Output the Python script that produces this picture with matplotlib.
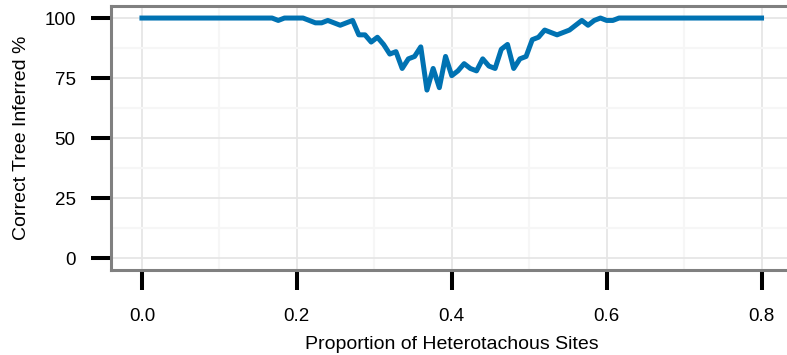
import numpy as np
import matplotlib
matplotlib.use("Agg")
import matplotlib.pyplot as plt
from matplotlib.ticker import MultipleLocator

plt.rcParams['font.family'] = ['Liberation Sans', 'DejaVu Sans']

# proportion of heterotachous sites, 0 to 0.8 in steps of 0.008
proportion = np.round(np.arange(101) * 0.008, 3)

# percent of replicates recovering the correct tree
correct_pct = [
    100, 100, 100, 100, 100, 100, 100, 100, 100, 100,
    100, 100, 100, 100, 100, 100, 100, 100, 100, 100,
    100, 100, 99, 100, 100, 100, 100, 99, 98, 98,
    99, 98, 97, 98, 99, 93, 93, 90, 92, 89,
    85, 86, 79, 83, 84, 88, 70, 79, 71, 84,
    76, 78, 81, 79, 78, 83, 80, 79, 87, 89,
    79, 83, 84, 91, 92, 95, 94, 93, 94, 95,
    97, 99, 97, 99, 100, 99, 99, 100, 100, 100,
    100, 100, 100, 100, 100, 100, 100, 100, 100, 100,
    100, 100, 100, 100, 100, 100, 100, 100, 100, 100,
    100,
]

x_ticks = [0.0, 0.2, 0.4, 0.6, 0.8]
y_ticks = [0, 25, 50, 75, 100]

fig = plt.figure(figsize=(7.87, 3.55), dpi=100)
ax = fig.add_axes([0.141, 0.239, 0.866, 0.744])

ax.plot(proportion, correct_pct, color='#0072b2', lw=3.6, zorder=3)

ax.set_xlim(-0.04, 0.84)
ax.set_ylim(-5, 105)
ax.set_xticks(x_ticks)
ax.set_xticklabels([f"{t:.1f}" for t in x_ticks])
ax.set_yticks(y_ticks)
ax.xaxis.set_minor_locator(MultipleLocator(0.1))
ax.yaxis.set_minor_locator(MultipleLocator(12.5))

ax.grid(which='major', color='#e6e6e6', lw=1.3, zorder=0)
ax.grid(which='minor', color='#f6f6f6', lw=1.6, zorder=0)
ax.set_axisbelow(True)

for side in ['left', 'top', 'bottom']:
    ax.spines[side].set_color('#808080')
    ax.spines[side].set_linewidth(2.2)
ax.spines['right'].set_visible(False)

ax.tick_params(which='major', length=14.5, width=2.9, color='black',
               labelsize=13.5)
ax.tick_params(axis='y', pad=11)
ax.tick_params(axis='x', pad=12.5)
ax.tick_params(which='minor', length=0)

ax.set_xlabel('Proportion of Heterotachous Sites', fontsize=14, labelpad=8)
ax.set_ylabel('Correct Tree Inferred %', fontsize=14, labelpad=10)

fig.savefig('out.png', dpi=100)
